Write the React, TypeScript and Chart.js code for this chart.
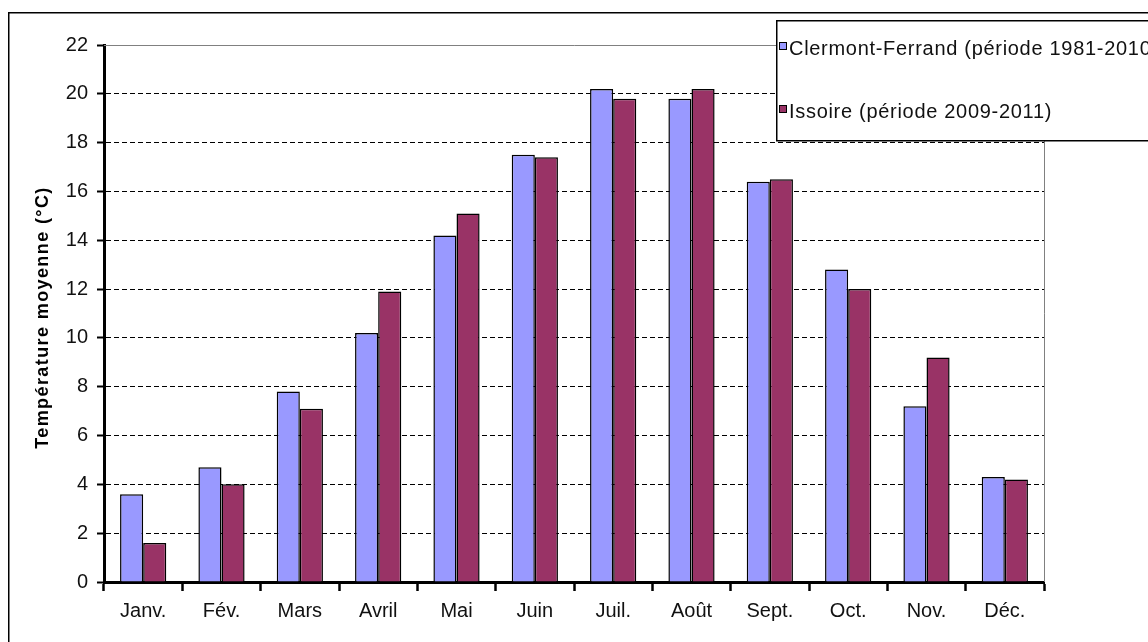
import React, { useEffect, useRef } from "react";
import { Chart, registerables } from "chart.js";

Chart.register(...registerables);

const months = ["Janv.", "Fév.", "Mars", "Avril", "Mai", "Juin", "Juil.", "Août", "Sept.", "Oct.", "Nov.", "Déc."];
const clermont = [3.6, 4.7, 7.8, 10.2, 14.2, 17.5, 20.2, 19.8, 16.4, 12.8, 7.2, 4.3];
const issoire = [1.6, 4.0, 7.1, 11.9, 15.1, 17.4, 19.8, 20.2, 16.5, 12.0, 9.2, 4.2];
const seriesLabels = ["Clermont-Ferrand (période 1981-2010)", "Issoire (période 2009-2011)"];
const yTitle = "Température moyenne (°C)";
const yMin = 0;
const yMax = 22;
const yStep = 2;

const FONT = "'Liberation Sans', Arial, sans-serif";

const decor = {
  id: "decor",
  beforeDraw(chart: any) {
    const ctx = chart.ctx;
    ctx.save();
    ctx.fillStyle = "#fff";
    ctx.fillRect(0, 0, chart.width, chart.height);
    ctx.strokeStyle = "#000";
    ctx.lineWidth = 1.5;
    ctx.strokeRect(8.75, 12.75, chart.width + 100, chart.height + 100);
    ctx.restore();
  },
  beforeDatasetsDraw(chart: any) {
    const ctx = chart.ctx;
    const { left, right, top, bottom } = chart.chartArea;
    ctx.save();
    ctx.strokeStyle = "#808080";
    ctx.lineWidth = 1;
    ctx.beginPath();
    ctx.moveTo(left, Math.round(top) + 0.5);
    ctx.lineTo(Math.round(right) + 0.5, Math.round(top) + 0.5);
    ctx.lineTo(Math.round(right) + 0.5, bottom);
    ctx.stroke();
    ctx.restore();
  },
  afterDraw(chart: any) {
    const ctx = chart.ctx;
    const { top, bottom } = chart.chartArea;
    // Y axis title
    ctx.save();
    ctx.fillStyle = "#000";
    ctx.font = `bold 18px ${FONT}`;
    (ctx as any).letterSpacing = "1.4px";
    ctx.textAlign = "center";
    ctx.textBaseline = "alphabetic";
    ctx.translate(48, (top + bottom) / 2 + 4);
    ctx.rotate(-Math.PI / 2);
    ctx.fillText(yTitle, 0, 0);
    ctx.restore();

    // Legend
    ctx.save();
    ctx.fillStyle = "#fff";
    ctx.fillRect(776, 20, 500, 121);
    ctx.strokeStyle = "#000";
    ctx.lineWidth = 1.5;
    ctx.strokeRect(776.75, 20.75, 500, 120);
    const rows = [48, 111];
    chart.data.datasets.forEach((ds: any, i: number) => {
      const cy = rows[i];
      ctx.fillStyle = ds.backgroundColor;
      ctx.fillRect(779.5, cy - 5.5, 7, 7);
      ctx.strokeStyle = "#000";
      ctx.lineWidth = 1;
      ctx.strokeRect(779.5, cy - 5.5, 7, 7);
      ctx.fillStyle = "#111";
      ctx.font = `20px ${FONT}`;
      (ctx as any).letterSpacing = "0.7px";
      ctx.textAlign = "left";
      ctx.textBaseline = "alphabetic";
      ctx.fillText(ds.label, 789, cy + 7);
    });
    ctx.restore();
  },
};

export default function App() {
  const ref = useRef<HTMLCanvasElement>(null);
  useEffect(() => {
    if (!ref.current) return;
    const chart = new Chart(ref.current, {
      type: "bar",
      data: {
        labels: months,
        datasets: [
          {
            label: seriesLabels[0],
            data: clermont,
            backgroundColor: "#9999FF",
            borderColor: "#000",
            borderWidth: 1.5,
            categoryPercentage: 0.59,
            barPercentage: 1,
          },
          {
            label: seriesLabels[1],
            data: issoire,
            backgroundColor: "#993366",
            borderColor: "#000",
            borderWidth: 1.5,
            categoryPercentage: 0.59,
            barPercentage: 1,
          },
        ],
      },
      options: {
        responsive: false,
        animation: false,
        devicePixelRatio: 1,
        layout: { padding: { left: 25, top: 45, right: 104, bottom: 0 } },
        plugins: {
          legend: { display: false },
          tooltip: { enabled: false },
          title: { display: false },
        },
        scales: {
          x: {
            offset: true,
            grid: {
              offset: true,
              drawOnChartArea: false,
              drawTicks: true,
              tickLength: 9,
              tickColor: "#000",
              tickWidth: 2.5,
            },
            border: { display: true, color: "#000", width: 3 },
            ticks: {
              color: "#111",
              font: { family: FONT, size: 20 },
              padding: 8,
              maxRotation: 0,
              autoSkip: false,
            },
            afterFit: (s: any) => {
              s.height = 60;
            },
          },
          y: {
            min: yMin,
            max: yMax,
            ticks: {
              stepSize: yStep,
              color: "#111",
              font: { family: FONT, size: 20 },
              padding: 9,
            },
            grid: {
              color: (c: any) =>
                c.tick && (c.tick.value === yMax || c.tick.value === yMin) ? "rgba(0,0,0,0)" : "#000",
              lineWidth: 1,
              drawTicks: true,
              tickLength: 7,
              tickColor: "#000",
              tickWidth: 2,
              tickBorderDash: [],
            },
            border: { display: true, color: "#000", width: 3, dash: [5, 3] },
            afterFit: (s: any) => {
              s.width = 79;
            },
          },
        },
      },
      plugins: [decor],
    });
    return () => chart.destroy();
  }, []);
  return (
    <div style={{ position: "fixed", left: 0, top: 0, width: 1148, height: 642, background: "#fff" }}>
      <canvas ref={ref} width={1148} height={642} style={{ display: "block", width: 1148, height: 642 }} />
    </div>
  );
}
